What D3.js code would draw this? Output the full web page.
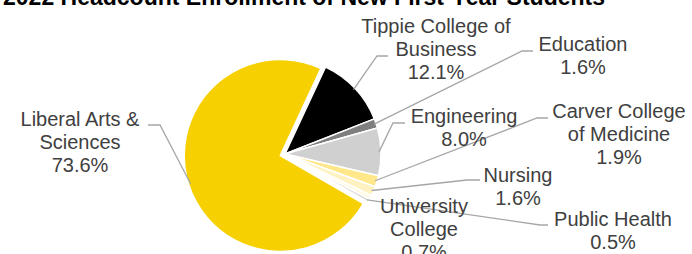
<!DOCTYPE html>
<html>
<head>
<meta charset="utf-8">
<script src="https://cdn.jsdelivr.net/npm/d3@7"></script>
<style>
  body { margin: 0; background: #fff; }
  svg { display: block; font-family: "Liberation Sans", Arial, sans-serif; }
</style>
</head>
<body>
<div id="chart"></div>
<script>
var width = 692;
var height = 254;

// data, clockwise from the black slice
var colleges = ["Tippie College of Business", "Education", "Engineering",
  "Carver College of Medicine", "Nursing", "University College",
  "Public Health", "Liberal Arts & Sciences"];
var shares = [12.1, 1.6, 8.0, 1.9, 1.6, 0.7, 0.5, 73.6];
var colors = ["#000000", "#7f7f7f", "#d0d0d0", "#ffe78a", "#fff2c2",
  "#fff9e3", "#d9d9d9", "#f6d000"];
// label lines as drawn in the picture
var labelLines = [
  ["Tippie College of", "Business", "12.1%"],
  ["Education", "1.6%"],
  ["Engineering", "8.0%"],
  ["Carver College", "of Medicine", "1.9%"],
  ["Nursing", "1.6%"],
  ["University", "College", "0.7%"],
  ["Public Health", "0.5%"],
  ["Liberal Arts &", "Sciences", "73.6%"]
];

// layout: label center x, first baseline y, leader elbow and end
var labelPos = [
  {x: 436, y: 33, elbow: [377, 56], end: [388, 56]},
  {x: 583, y: 51, elbow: [522, 51], end: [533, 51]},
  {x: 464, y: 123, elbow: [393, 123], end: [405, 123]},
  {x: 619, y: 118, elbow: [537, 118], end: [548, 118]},
  {x: 518, y: 182, elbow: [467, 180], end: [480, 180]},
  {x: 424, y: 213, elbow: null, end: null},
  {x: 613, y: 226, elbow: [540, 225], end: [548, 225]},
  {x: 80, y: 126, elbow: [160, 125], end: [148, 125]}
];

var cx = 285, cy = 154, radius = 96, explode = 5;
var lineHeight = 23;

var svg = d3.select("#chart")
  .append("svg")
  .attr("width", width)
  .attr("height", height);

// title (runs off the top of the frame)
svg.append("text")
  .attr("x", 605)
  .attr("y", 5)
  .attr("text-anchor", "end")
  .attr("font-size", 23)
  .attr("font-weight", "bold")
  .attr("fill", "#000")
  .text("Fall 2022 Headcount Enrollment of New First-Year Students");

var pie = d3.pie()
  .sort(null)
  .value(d => d)
  .startAngle(25 * Math.PI / 180)
  .endAngle(25 * Math.PI / 180 + 2 * Math.PI);

var arcs = pie(shares);
var arc = d3.arc().innerRadius(0).outerRadius(radius);

var g = svg.append("g").attr("transform", `translate(${cx},${cy})`);

// offset for the exploded Liberal Arts slice
function offset(d, i) {
  if (i !== shares.length - 1) return [0, 0];
  var a = (d.startAngle + d.endAngle) / 2;
  return [Math.sin(a) * explode, -Math.cos(a) * explode];
}

g.selectAll("path")
  .data(arcs)
  .join("path")
  .attr("d", arc)
  .attr("transform", (d, i) => `translate(${offset(d, i)})`)
  .attr("fill", (d, i) => colors[i])
  .attr("stroke", "#fff")
  .attr("stroke-width", 1.5)
  .attr("stroke-linejoin", "round");

// leader lines from slice edge at its mid angle
var line = d3.line();
arcs.forEach((d, i) => {
  var p = labelPos[i];
  if (!p.elbow) return;
  var a = (d.startAngle + d.endAngle) / 2;
  var o = offset(d, i);
  var r = radius - 2;
  var start = [cx + o[0] + Math.sin(a) * r, cy + o[1] - Math.cos(a) * r];
  svg.append("path")
    .attr("d", line([start, p.elbow, p.end]))
    .attr("fill", "none")
    .attr("stroke", "#a6a6a6")
    .attr("stroke-width", 1.3);
});

// labels
labelLines.forEach((lines, i) => {
  var p = labelPos[i];
  var t = svg.append("text")
    .attr("text-anchor", "middle")
    .attr("font-size", 20)
    .attr("fill", "#404040");
  lines.forEach((s, j) => {
    t.append("tspan")
      .attr("x", p.x)
      .attr("y", p.y + j * lineHeight)
      .text(s);
  });
});
</script>
</body>
</html>
